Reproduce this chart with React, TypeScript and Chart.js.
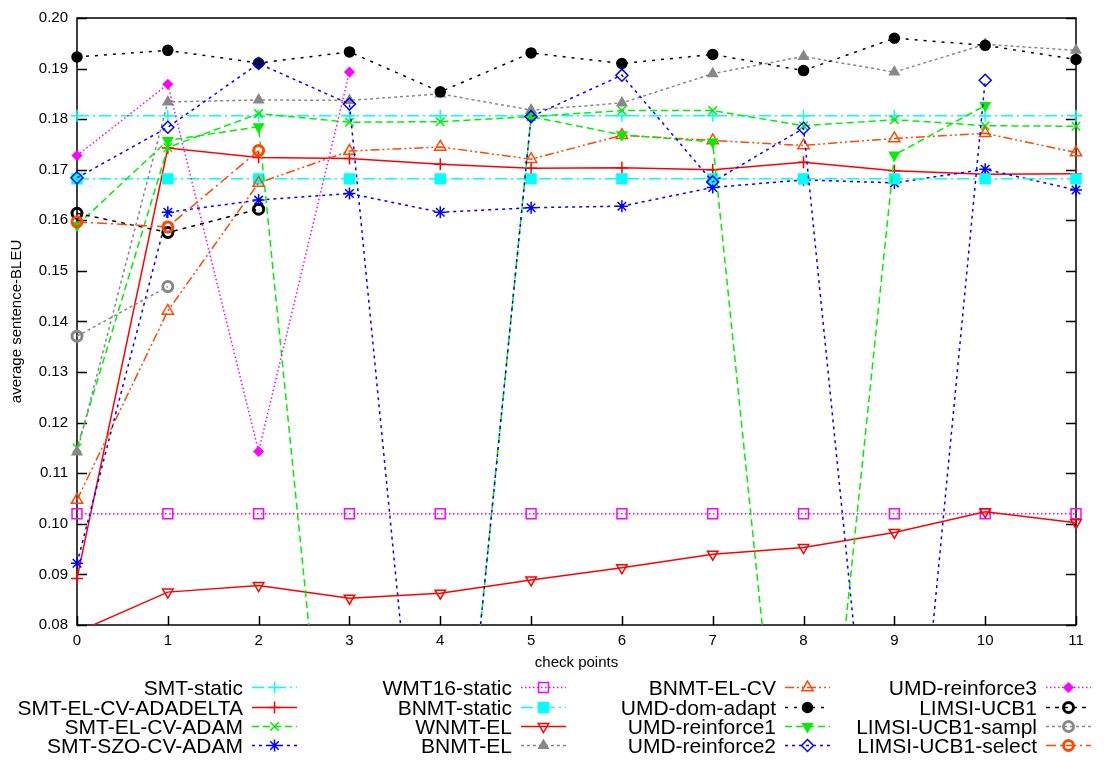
import React, { useEffect, useRef } from 'react';
import { Chart, registerables } from 'chart.js';
import { drawPoint } from 'chart.js/helpers';

Chart.register(...registerables);

// ---------- data ----------
const checkPoints = ['0', '1', '2', '3', '4', '5', '6', '7', '8', '9', '10', '11'];
const yMin = 0.08;
const yMax = 0.2;
const yStep = 0.01;

const smtStatic = [0.1807, 0.1807, 0.1807, 0.1807, 0.1807, 0.1807, 0.1807, 0.1807, 0.1807, 0.1807, 0.1807, 0.1807];
const smtElCvAdadelta = [0.0892, 0.1743, 0.1724, 0.1722, 0.1711, 0.1703, 0.1704, 0.17, 0.1715, 0.1698, 0.1691, 0.1692];
const smtElCvAdam = [0.115, 0.1744, 0.1811, 0.1794, 0.1795, 0.1805, 0.1817, 0.1817, 0.1787, 0.1799, 0.1787, 0.1786];
const smtSzoCvAdam = [0.0922, 0.1616, 0.164, 0.1653, 0.1616, 0.1625, 0.1628, 0.1665, 0.168, 0.1674, 0.1701, 0.166];
const wmt16Static = [0.102, 0.102, 0.102, 0.102, 0.102, 0.102, 0.102, 0.102, 0.102, 0.102, 0.102, 0.102];
const bnmtStatic = [0.1682, 0.1682, 0.1682, 0.1682, 0.1682, 0.1682, 0.1682, 0.1682, 0.1682, 0.1682, 0.1682, 0.1682];
const wnmtEl = [0.0786, 0.0865, 0.0878, 0.0853, 0.0863, 0.0889, 0.0913, 0.094, 0.0953, 0.0983, 0.1024, 0.1002];
const bnmtEl = [0.1142, 0.1834, 0.1838, 0.1837, 0.185, 0.1818, 0.1832, 0.189, 0.1924, 0.1893, 0.1948, 0.1936];
const bnmtElCv = [0.1047, 0.1421, 0.1674, 0.1737, 0.1745, 0.1721, 0.1768, 0.1758, 0.1748, 0.1762, 0.1772, 0.1734];
const umdDomAdapt = [0.1923, 0.1936, 0.1911, 0.1933, 0.1854, 0.1931, 0.191, 0.1928, 0.1896, 0.196, 0.1946, 0.1918];
const umdReinforce1 = [0.159, 0.1758, 0.1785, 0, 0, 0.1805, 0.1769, 0.1755, 0, 0.1729, 0.1827];
const umdReinforce2 = [0.1684, 0.1784, 0.191, 0.183, 0, 0.1805, 0.1887, 0.1676, 0.1782, 0, 0.1877];
const umdReinforce3 = [0.1728, 0.1869, 0.1143, 0.1893];
const limsiUcb1 = [0.1614, 0.1576, 0.1622];
const limsiUcb1Sampl = [0.1371, 0.1469];
const limsiUcb1Select = [0.1597, 0.1587, 0.1738];

const seriesLabels = [
  'SMT-static', 'SMT-EL-CV-ADADELTA', 'SMT-EL-CV-ADAM', 'SMT-SZO-CV-ADAM',
  'WMT16-static', 'BNMT-static', 'WNMT-EL', 'BNMT-EL',
  'BNMT-EL-CV', 'UMD-dom-adapt', 'UMD-reinforce1', 'UMD-reinforce2',
  'UMD-reinforce3', 'LIMSI-UCB1', 'LIMSI-UCB1-sampl', 'LIMSI-UCB1-select',
];
const seriesValues = [
  smtStatic, smtElCvAdadelta, smtElCvAdam, smtSzoCvAdam,
  wmt16Static, bnmtStatic, wnmtEl, bnmtEl,
  bnmtElCv, umdDomAdapt, umdReinforce1, umdReinforce2,
  umdReinforce3, limsiUcb1, limsiUcb1Sampl, limsiUcb1Select,
];

// ---------- styles ----------
const CYAN = '#00ffff';
const RED = '#ff0000';
const GREEN = '#00f000';
const BLUE = '#0000ff';
const MAGENTA = '#ff00ff';
const GRAY = '#888888';
const ORANGE = '#ff4800';
const BLACK = '#000000';

type Sty = { color: string; dash: number[]; ps: string; r: number; fill: boolean; rot?: number; pbw?: number };
const styles: Sty[] = [
  { color: CYAN, dash: [12, 4, 2, 4], ps: 'cross', r: 6, fill: false },
  { color: RED, dash: [], ps: 'cross', r: 6, fill: false },
  { color: GREEN, dash: [7, 4], ps: 'crossRot', r: 6, fill: false },
  { color: BLUE, dash: [3, 4], ps: 'star', r: 6, fill: false },
  { color: MAGENTA, dash: [1.5, 2.5], ps: 'rect', r: 7, fill: false },
  { color: CYAN, dash: [12, 4, 2, 4], ps: 'rect', r: 7, fill: true },
  { color: RED, dash: [], ps: 'triangle', r: 6, fill: false, rot: 180 },
  { color: GRAY, dash: [3, 3], ps: 'triangle', r: 5.5, fill: true },
  { color: ORANGE, dash: [9, 3, 2, 3, 2, 3], ps: 'triangle', r: 6.5, fill: false },
  { color: BLACK, dash: [3, 6], ps: 'circle', r: 5, fill: true },
  { color: GREEN, dash: [7, 4], ps: 'triangle', r: 5.5, fill: true, rot: 180 },
  { color: BLUE, dash: [3, 4], ps: 'rectRot', r: 6, fill: false },
  { color: MAGENTA, dash: [1.5, 2.5], ps: 'rectRot', r: 4.5, fill: true },
  { color: BLACK, dash: [4, 5], ps: 'circle', r: 5, fill: false, pbw: 3 },
  { color: GRAY, dash: [3, 3], ps: 'circle', r: 5, fill: false, pbw: 3 },
  { color: ORANGE, dash: [10, 4, 2, 4], ps: 'circle', r: 5, fill: false, pbw: 3 },
];

const FONT = '"Liberation Sans", Arial, Helvetica, sans-serif';

const frameAndTicks = {
  id: 'frameAndTicks',
  beforeDatasetsDraw(chart: any) {
    const { ctx, chartArea: a, scales } = chart;
    const ys = scales.y;
    const xs = scales.x;
    ctx.save();
    ctx.strokeStyle = '#000';
    ctx.lineWidth = 1.5;
    ctx.setLineDash([]);
    ctx.strokeRect(a.left, a.top, a.right - a.left, a.bottom - a.top);
    ctx.beginPath();
    ys.ticks.forEach((t: any) => {
      const y = Math.round(ys.getPixelForValue(t.value)) + 0.5;
      ctx.moveTo(a.left, y);
      ctx.lineTo(a.left + 10, y);
      ctx.moveTo(a.right, y);
      ctx.lineTo(a.right - 10, y);
    });
    xs.ticks.forEach((_t: any, i: number) => {
      const x = Math.round(xs.getPixelForTick(i)) + 0.5;
      ctx.moveTo(x, a.bottom);
      ctx.lineTo(x, a.bottom - 9);
    });
    ctx.stroke();
    ctx.restore();
  },
};

const keyTextRight = [243, 512, 776, 1037];
const keyBaselines = [695, 715, 734, 753];

const bottomKey = {
  id: 'bottomKey',
  afterDraw(chart: any) {
    const { ctx } = chart;
    ctx.save();
    chart.data.datasets.forEach((ds: any, i: number) => {
      const col = Math.floor(i / 4);
      const row = i % 4;
      const tx = keyTextRight[col];
      const by = keyBaselines[row];
      ctx.font = `21px ${FONT}`;
      ctx.fillStyle = '#000';
      ctx.textAlign = 'right';
      ctx.textBaseline = 'alphabetic';
      ctx.fillText(ds.label, tx, by);
      const ly = by - 7.5;
      const x0 = tx + 9;
      const x1 = x0 + 45;
      ctx.beginPath();
      ctx.strokeStyle = ds.borderColor;
      ctx.lineWidth = ds.borderWidth;
      ctx.setLineDash(ds.borderDash || []);
      ctx.moveTo(x0, ly);
      ctx.lineTo(x1, ly);
      ctx.stroke();
      ctx.setLineDash([]);
      ctx.fillStyle = ds.pointBackgroundColor;
      ctx.strokeStyle = ds.pointBorderColor;
      ctx.lineWidth = ds.pointBorderWidth;
      drawPoint(ctx, {
        pointStyle: ds.pointStyle,
        radius: ds.pointRadius,
        rotation: ds.pointRotation || 0,
        borderWidth: ds.pointBorderWidth,
      } as any, (x0 + x1) / 2, ly);
    });
    ctx.restore();
  },
};

export default function App() {
  const ref = useRef<HTMLCanvasElement | null>(null);
  useEffect(() => {
    document.body.style.margin = '0';
    const canvas = ref.current;
    if (!canvas) return;
    const n = seriesLabels.length;
    const datasets = seriesLabels.map((label, i) => {
      const s = styles[i];
      return {
        label,
        data: seriesValues[i],
        borderColor: s.color,
        backgroundColor: s.color,
        borderWidth: 1.5,
        borderDash: s.dash,
        pointStyle: s.ps,
        pointRadius: s.r,
        pointHoverRadius: s.r,
        pointRotation: s.rot || 0,
        pointBorderColor: s.color,
        pointBackgroundColor: s.fill ? s.color : 'rgba(0,0,0,0)',
        pointBorderWidth: s.pbw || 1.5,
        fill: false,
        tension: 0,
        order: n - i,
        clip: { left: 20, right: 20, top: 20, bottom: 0 },
      };
    });
    const chart = new Chart(canvas, {
      type: 'line',
      data: { labels: checkPoints, datasets: datasets as any },
      options: {
        responsive: false,
        animation: false,
        devicePixelRatio: 1,
        events: [],
        layout: { padding: { top: 14, right: 29, left: 0, bottom: 85 } },
        plugins: { legend: { display: false }, tooltip: { enabled: false } },
        scales: {
          x: {
            type: 'category',
            offset: false,
            grid: { display: false, drawTicks: false },
            border: { display: false },
            ticks: { color: '#000', font: { family: FONT, size: 15 }, padding: 7, maxRotation: 0, autoSkip: false },
            title: { display: true, text: 'check points', color: '#000', font: { family: FONT, size: 15 }, padding: { top: 0, bottom: 3 } },
            afterFit: (s: any) => { s.height = 50; },
          },
          y: {
            min: yMin,
            max: yMax,
            grid: { display: false, drawTicks: false },
            border: { display: false },
            ticks: {
              stepSize: yStep,
              color: '#000',
              font: { family: FONT, size: 15 },
              padding: 9,
              callback: (v: any) => Number(v).toFixed(2),
            },
            title: { display: true, text: 'average sentence-BLEU', color: '#000', font: { family: FONT, size: 15 }, padding: { top: 8, bottom: 0 } },
            afterFit: (s: any) => { s.width = 77; },
          },
        },
      },
      plugins: [frameAndTicks, bottomKey],
    });
    return () => chart.destroy();
  }, []);
  return (
    <div style={{ width: 1105, height: 760, background: '#fff' }}>
      <canvas ref={ref} width={1105} height={760} style={{ display: 'block' }} />
    </div>
  );
}
